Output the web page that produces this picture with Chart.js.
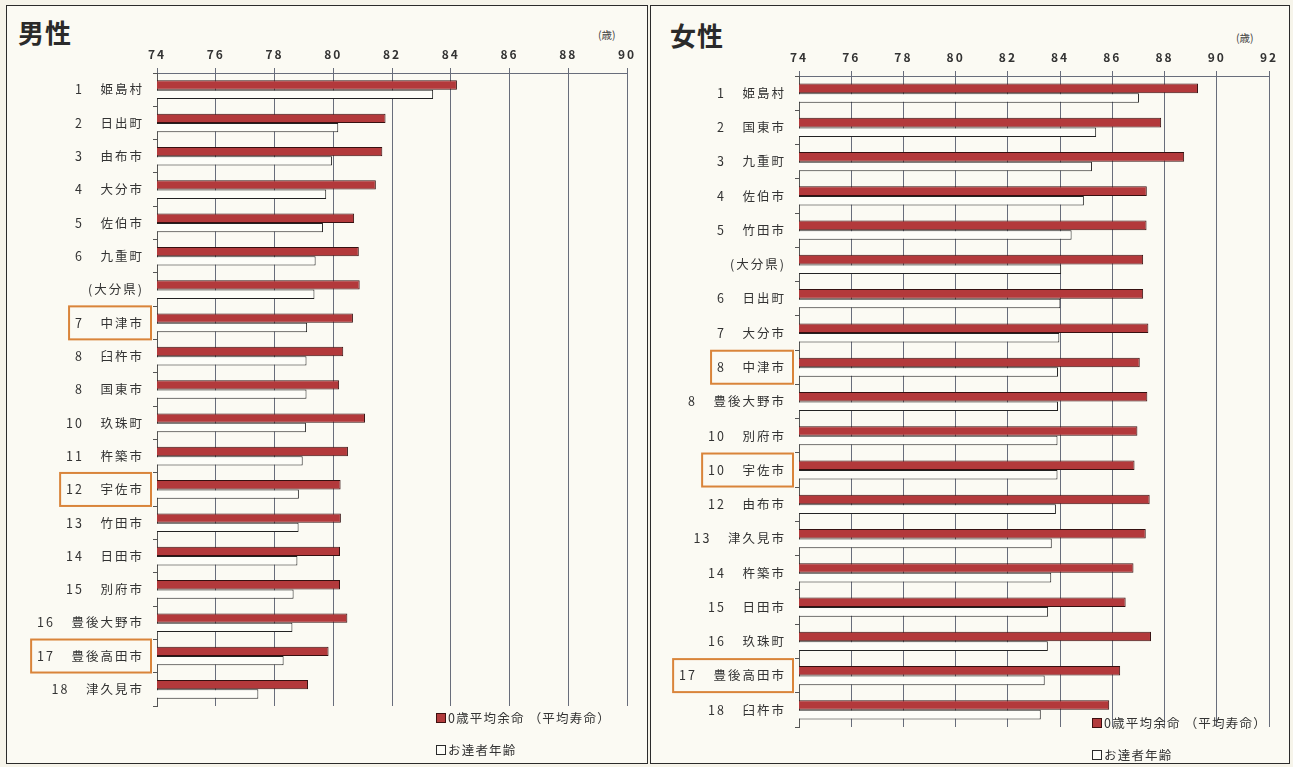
<!DOCTYPE html>
<html lang="ja">
<head>
<meta charset="utf-8">
<title>お達者年齢と平均寿命（男性・女性）</title>
<script src="https://cdn.jsdelivr.net/npm/chart.js@4"></script>
<style>
  body { margin: 0; background: #f6f4ea; font-family: "Noto Sans CJK JP", sans-serif; color: #333; }
  #page { position: relative; width: 1293px; height: 767px; overflow: hidden; }
  .panel { position: absolute; top: 5px; height: 757px; border: 1.5px solid #2b2b2b; background: #fbfaf3; }
  .title { position: absolute; font-size: 26px; font-weight: 700; color: #2a2a2a; letter-spacing: 1px; }
  .unit { position: absolute; font-size: 10.5px; color: #444; }
  canvas { position: absolute; top: 0; }
  .legend { position: absolute; font-size: 12.5px; letter-spacing: 1.2px; color: #333; }
  .legend div { height: 32px; line-height: 18px; white-space: nowrap; }
  .sw { display: inline-block; width: 8px; height: 8px; margin-right: 2px; border: 1px solid #2a2a2a; }
  .sw.red { background: #b23b3c; border-color: #3d1010; }
  .sw.white { background: #fdfdf8; }
</style>
</head>
<body>
<div id="page">
  <div class="panel" style="left:6px; width:640px;"></div>
  <div class="panel" style="left:650px; width:638px;"></div>

  <div class="title" style="left:18px; top:13px;">男性</div>
  <div class="title" style="left:670px; top:16px;">女性</div>
  <div class="unit" style="left:598px; top:27px;">(歳)</div>
  <div class="unit" style="left:1236px; top:30px;">(歳)</div>

  <canvas id="maleChart" width="648" height="767" style="left:0;"></canvas>
  <canvas id="femaleChart" width="643" height="767" style="left:650px;"></canvas>

  <div class="legend" style="left:436px; top:709px;">
    <div><span class="sw red"></span>0歳平均余命 （平均寿命）</div>
    <div><span class="sw white"></span>お達者年齢</div>
  </div>
  <div class="legend" style="left:1092px; top:714px;">
    <div><span class="sw red"></span>0歳平均余命 （平均寿命）</div>
    <div><span class="sw white"></span>お達者年齢</div>
  </div>
</div>

<script>
// 男性
const maleRanks = ['1', '2', '3', '4', '5', '6', '', '7', '8', '8', '10', '11', '12', '13', '14', '15', '16', '17', '18'];
const maleNames = ['姫島村', '日出町', '由布市', '大分市', '佐伯市', '九重町', '(大分県)', '中津市', '臼杵市', '国東市',
  '玖珠町', '杵築市', '宇佐市', '竹田市', '日田市', '別府市', '豊後大野市', '豊後高田市', '津久見市'];
const maleLife = [84.21, 81.78, 81.67, 81.45, 80.71, 80.87, 80.90, 80.67, 80.34, 80.20,
  81.08, 80.50, 80.25, 80.26, 80.23, 80.23, 80.48, 79.84, 79.14];
const maleHealthy = [83.40, 80.17, 79.96, 79.76, 79.65, 79.40, 79.36, 79.11, 79.09, 79.09,
  79.07, 78.96, 78.83, 78.82, 78.78, 78.65, 78.61, 78.31, 77.45];
const maleMarked = [7, 12, 17];

// 女性
const femaleRanks = ['1', '2', '3', '4', '5', '', '6', '7', '8', '8', '10', '10', '12', '13', '14', '15', '16', '17', '18'];
const femaleNames = ['姫島村', '国東市', '九重町', '佐伯市', '竹田市', '(大分県)', '日出町', '大分市', '中津市', '豊後大野市',
  '別府市', '宇佐市', '由布市', '津久見市', '杵築市', '日田市', '玖珠町', '豊後高田市', '臼杵市'];
const femaleLife = [89.28, 87.87, 88.75, 87.32, 87.31, 87.18, 87.18, 87.38, 87.05, 87.34,
  86.96, 86.85, 87.43, 87.28, 86.81, 86.51, 87.48, 86.30, 85.88];
const femaleHealthy = [87.02, 85.38, 85.22, 84.91, 84.44, 84.04, 84.01, 83.97, 83.92, 83.92,
  83.90, 83.90, 83.84, 83.68, 83.66, 83.54, 83.53, 83.41, 83.26];
const femaleMarked = [8, 11, 17];

const labelFont = { family: '"Noto Sans CJK JP", sans-serif', size: 12.5 };
const tickFont = { family: '"Noto Sans CJK JP", sans-serif', size: 12, weight: 600 };
const labelPad = 9;
const tickLen = 4;
const letterGap = '2px';

const makeLabels = (ranks, names) => ranks.map((r, i) => r ? r + '\u2002\u2002' + names[i] : names[i]);

// letter spacing for the canvas text
const spacing = {
  id: 'spacing',
  beforeDraw(chart) {
    chart.ctx.letterSpacing = letterGap;
  }
};

// orange frames round some row labels
const markBoxes = {
  id: 'markBoxes',
  afterDraw(chart, args, opts) {
    const ctx = chart.ctx;
    const yScale = chart.scales.y;
    const textRight = yScale.right - tickLen - labelPad;
    ctx.save();
    ctx.letterSpacing = letterGap;
    ctx.font = labelFont.size + 'px ' + labelFont.family;
    ctx.strokeStyle = '#d9843a';
    ctx.lineWidth = 2;
    opts.rows.forEach((i) => {
      const cy = yScale.getPixelForValue(i);
      const w = ctx.measureText(chart.data.labels[i]).width;
      const left = textRight - w - 6;
      const right = textRight + 7;
      ctx.strokeRect(left, cy - 16.5, right - left, 33);
    });
    ctx.restore();
  }
};

const makeChart = (canvas, labels, life, healthy, max, marked, box) => {
  new Chart(canvas, {
    type: 'bar',
    data: {
      labels: labels,
      datasets: [{
        label: '0歳平均余命（平均寿命）',
        data: life,
        backgroundColor: '#b3393b',
        borderColor: '#361010',
        borderWidth: 1,
        categoryPercentage: 0.56,
        barPercentage: 1
      }, {
        label: 'お達者年齢',
        data: healthy,
        backgroundColor: '#fdfdf8',
        borderColor: '#222',
        borderWidth: 1,
        categoryPercentage: 0.56,
        barPercentage: 1
      }]
    },
    options: {
      indexAxis: 'y',
      responsive: false,
      animation: false,
      layout: { padding: { top: 0, left: 0, right: box.right, bottom: box.bottom } },
      plugins: {
        legend: { display: false },
        tooltip: { enabled: false },
        markBoxes: { rows: marked }
      },
      scales: {
        x: {
          position: 'top',
          min: 74,
          max: max,
          ticks: { stepSize: 2, color: '#333', font: tickFont, padding: 6 },
          grid: { color: '#686d7b', lineWidth: 1, tickLength: 5 },
          border: { display: true, color: '#686d7b' },
          afterFit: (scale) => { scale.height = box.top; }
        },
        y: {
          ticks: { color: '#333', font: labelFont, padding: labelPad },
          grid: { drawOnChartArea: false, tickLength: tickLen, color: '#555', offset: true },
          border: { display: true, color: '#555' },
          afterFit: (scale) => { scale.width = box.left; }
        }
      }
    },
    plugins: [spacing, markBoxes]
  });
};

makeChart($('maleChart'), makeLabels(maleRanks, maleNames), maleLife, maleHealthy, 90, maleMarked,
  { top: 73, left: 157, right: 21, bottom: 61 });
makeChart($('femaleChart'), makeLabels(femaleRanks, femaleNames), femaleLife, femaleHealthy, 92, femaleMarked,
  { top: 76, left: 149, right: 24, bottom: 40 });

function $(id) { return document.getElementById(id); }
</script>
</body>
</html>
